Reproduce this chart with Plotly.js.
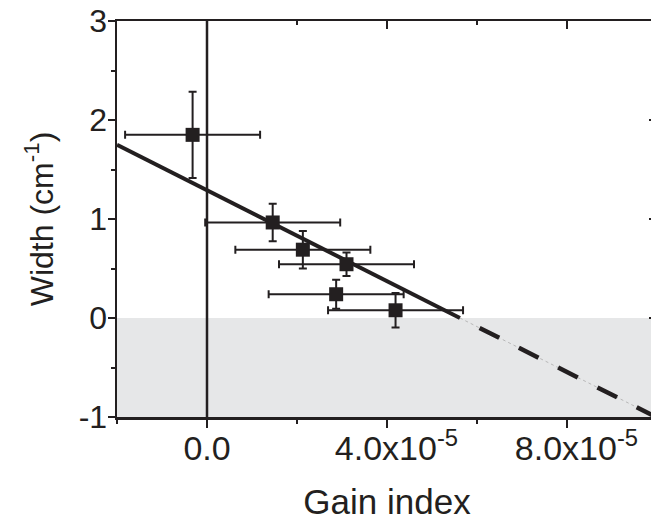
<!DOCTYPE html>
<html>
<head>
<meta charset="utf-8">
<script src="https://cdn.plot.ly/plotly-3.0.1.min.js"></script>
<style>
html,body{margin:0;padding:0;overflow:hidden;background:#fff;}
#chart{width:680px;height:521px;}
</style>
</head>
<body>
<div id="chart"></div>
<script>
// Data points (Gain index vs Width)
var gainIndex = [-3.2e-6, 14.6e-6, 21.3e-6, 31.0e-6, 28.7e-6, 41.9e-6];
var width = [1.85, 0.965, 0.69, 0.543, 0.24, 0.078];
var widthErr = [0.435, 0.19, 0.19, 0.118, 0.147, 0.175];
var gainErr = [1.5e-5, 1.5e-5, 1.5e-5, 1.5e-5, 1.5e-5, 1.5e-5];

// Linear fit
var fitIntercept = [1.29];
var fitSlope = [-22950];

// Axes
var xRange = [-2e-5, 1e-4];
var yRange = [-1, 3];
var xTickVals = [0, 4e-5, 8e-5];
var xTickText = ['0.0', '\u00a0\u00a04.0x10<sup>-5</sup>', '\u00a0\u00a08.0x10<sup>-5</sup>'];
var yTickVals = [-1, 0, 1, 2, 3];
var yTickText = ['-1', '0', '1', '2', '3'];

var ink = '#231f20';
var xZero = -fitIntercept[0] / fitSlope[0];
function fitY(x) { return fitIntercept[0] + fitSlope[0] * x; }

var solidX = [xRange[0], xZero];
var dashX = [xZero, xRange[1]];

var traces = [
  {
    x: dashX, y: dashX.map(fitY), mode: 'lines', type: 'scatter',
    line: {color: '#b8b8b8', width: 1, dash: 'dot'}, hoverinfo: 'skip', showlegend: false
  },
  {
    x: dashX, y: dashX.map(fitY), mode: 'lines', type: 'scatter',
    line: {color: ink, width: 4.5, dash: '0px,22px,22px,0px'}, hoverinfo: 'skip', showlegend: false
  },
  {
    x: solidX, y: solidX.map(fitY), mode: 'lines', type: 'scatter',
    line: {color: ink, width: 4}, hoverinfo: 'skip', showlegend: false
  },
  {
    x: gainIndex, y: width, mode: 'markers', type: 'scatter',
    marker: {symbol: 'square', size: 14, color: ink},
    error_y: {type: 'data', array: widthErr, visible: true, color: ink, thickness: 2, width: 4},
    error_x: {type: 'data', array: gainErr, visible: true, color: ink, thickness: 2, width: 4},
    showlegend: false
  },
  {
    x: xRange, y: yRange, xaxis: 'x2', yaxis: 'y2', mode: 'markers', type: 'scatter',
    marker: {opacity: 0}, hoverinfo: 'skip', showlegend: false
  }
];

var axisCommon = {
  showgrid: false, zeroline: false, showline: true, linecolor: ink, linewidth: 2.5,
  tickcolor: ink, tickwidth: 2.5
};

var layout = {
  width: 680, height: 521,
  margin: {l: 117, r: 23, t: 21, b: 104},
  paper_bgcolor: '#fff', plot_bgcolor: 'rgba(0,0,0,0)',
  font: {family: 'Liberation Sans, Arial, sans-serif', color: ink},
  xaxis: Object.assign({}, axisCommon, {
    range: xRange, tickmode: 'array', tickvals: xTickVals, ticktext: xTickText,
    ticks: 'outside', ticklen: 8, mirror: true, ticklabelstandoff: -8,
    tickfont: {size: 34, color: ink},
    minor: {tickmode: 'linear', tick0: 0, dtick: 2e-5, ticks: 'outside', ticklen: 4, tickwidth: 2, tickcolor: ink},
    title: {text: 'Gain index', font: {size: 35, color: ink}, standoff: 23}
  }),
  yaxis: Object.assign({}, axisCommon, {
    range: yRange, tickmode: 'array', tickvals: yTickVals, ticktext: yTickText,
    ticks: 'outside', ticklen: 7, mirror: true, ticklabelstandoff: -6,
    tickfont: {size: 32, color: ink},
    minor: {tickmode: 'linear', tick0: 0, dtick: 0.5, ticks: 'outside', ticklen: 4, tickwidth: 2, tickcolor: ink},
    title: {text: 'Width (cm<sup>-1</sup>)\u00a0\u00a0', font: {size: 32, color: ink}, standoff: 16}
  }),
  xaxis2: {
    overlaying: 'x', side: 'top', anchor: 'y2', range: xRange, showgrid: false, zeroline: false, showline: false,
    tickmode: 'array', tickvals: xTickVals, ticks: 'inside', ticklen: 8, tickwidth: 2.5, tickcolor: ink,
    showticklabels: false,
    minor: {tickmode: 'linear', tick0: 0, dtick: 2e-5, ticks: 'inside', ticklen: 4, tickwidth: 2, tickcolor: ink}
  },
  yaxis2: {
    overlaying: 'y', side: 'right', anchor: 'x2', range: yRange, showgrid: false, zeroline: false, showline: false,
    tickmode: 'array', tickvals: yTickVals, ticks: 'inside', ticklen: 8, tickwidth: 2.5, tickcolor: ink,
    showticklabels: false,
    minor: {tickmode: 'linear', tick0: 0, dtick: 0.5, ticks: 'inside', ticklen: 4, tickwidth: 2, tickcolor: ink}
  },
  shapes: [
    {type: 'rect', xref: 'paper', yref: 'y', x0: 0, x1: 1, y0: yRange[0], y1: 0,
     fillcolor: '#e6e7e8', line: {width: 0}, layer: 'below'},
    {type: 'line', xref: 'x', yref: 'paper', x0: 0, x1: 0, y0: 0, y1: 1,
     line: {color: ink, width: 2.5}, layer: 'below'}
  ]
};

Plotly.newPlot('chart', traces, layout, {displayModeBar: false, staticPlot: true});
</script>
</body>
</html>
